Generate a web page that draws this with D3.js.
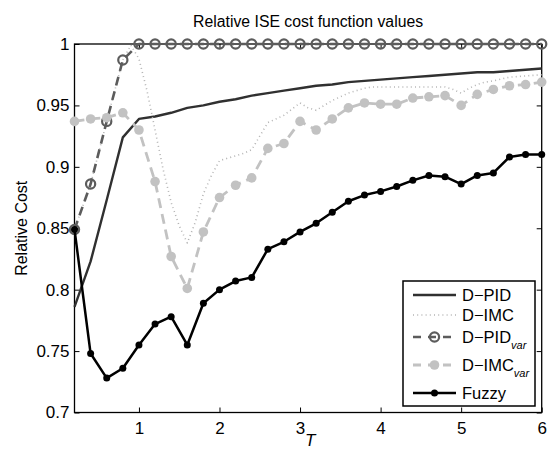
<!DOCTYPE html>
<html><head><meta charset="utf-8">
<script src="https://cdn.jsdelivr.net/npm/d3@7"></script>
<style>
html,body{margin:0;padding:0;background:#fff;}
text{font-family:"Liberation Sans",Arial,Helvetica,sans-serif;}
</style></head>
<body><svg id="c" width="551" height="450"></svg>
<script>
// ---- data ----
const T = [0.2,0.4,0.6,0.8,1.0,1.2,1.4,1.6,1.8,2.0,2.2,2.4,2.6,2.8,3.0,3.2,3.4,3.6,3.8,4.0,4.2,4.4,4.6,4.8,5.0,5.2,5.4,5.6,5.8,6.0];
const dPID = [0.786,0.823,0.873,0.924,0.939,0.941,0.944,0.948,0.950,0.953,0.955,0.958,0.960,0.962,0.964,0.966,0.967,0.969,0.970,0.971,0.972,0.973,0.974,0.975,0.976,0.977,0.977,0.978,0.979,0.980];
const dPIDvar = [0.849,0.886,0.937,0.987,1,1,1,1,1,1,1,1,1,1,1,1,1,1,1,1,1,1,1,1,1,1,1,1,1,1];
const dIMCvar = [0.937,0.939,0.940,0.944,0.930,0.888,0.827,0.801,0.847,0.875,0.885,0.891,0.915,0.919,0.937,0.930,0.939,0.948,0.952,0.951,0.951,0.956,0.957,0.958,0.950,0.959,0.963,0.966,0.967,0.969];
const fuzzy = [0.849,0.748,0.728,0.736,0.755,0.772,0.778,0.755,0.789,0.800,0.807,0.810,0.833,0.839,0.847,0.854,0.863,0.872,0.877,0.880,0.884,0.889,0.893,0.892,0.886,0.893,0.895,0.908,0.910,0.910];
const T_imc = [0.2,0.4,0.6,0.8,0.9,1.0,1.1,1.2,1.3,1.4,1.5,1.6,1.7,1.8,1.9,2.0,2.1,2.2,2.3,2.4,2.5,2.6,2.7,2.8,2.9,3.0,3.1,3.2,3.3,3.4,3.5,3.6,3.7,3.8,3.9,4.0,4.2,4.4,4.6,4.8,4.9,5.0,5.1,5.2,5.3,5.4,5.6,5.8,6.0];
const dIMC = [0.849,0.886,0.937,0.987,0.999,0.988,0.962,0.930,0.898,0.871,0.852,0.838,0.855,0.878,0.893,0.905,0.907,0.909,0.911,0.914,0.925,0.936,0.939,0.942,0.947,0.952,0.948,0.946,0.950,0.954,0.957,0.960,0.962,0.964,0.965,0.965,0.965,0.965,0.965,0.965,0.963,0.960,0.964,0.967,0.969,0.970,0.973,0.974,0.975];
const xTicks = [1,2,3,4,5,6];
const yTicks = [0.7,0.75,0.8,0.85,0.9,0.95,1];
const yTickLabels = ["0.7","0.75","0.8","0.85","0.9","0.95","1"];
const title = "Relative ISE cost function values";
const xLabel = "T";
const yLabel = "Relative Cost";
const legendNames = ["D−PID","D−IMC","D−PID","D−IMC","Fuzzy"];
const legendSubs = ["","","var","var",""];

// ---- layout ----
const L = 74.5, R = 541.7, TOP = 44, BOT = 412.5;
const svg = d3.select("#c");
const x = d3.scaleLinear().domain([0.2,6]).range([L,R]);
const y = d3.scaleLinear().domain([0.7,1]).range([BOT,TOP]);

const styles = [
  {color:"#303030", w:2.4, dash:null, marker:null},
  {color:"#b4b4b4", w:1.6, dash:"1,3.2", marker:null},
  {color:"#5c5c5c", w:2.6, dash:"9,6", marker:"open"},
  {color:"#c2c2c2", w:2.8, dash:"10,6", marker:"fill"},
  {color:"#000000", w:2.5, dash:null, marker:"dot"}
];

// axes box
svg.append("rect").attr("x",L).attr("y",TOP).attr("width",R-L).attr("height",BOT-TOP)
  .attr("fill","#fff").attr("stroke","#000").attr("stroke-width",1.3);

// ticks inward on all sides
const tl = 5;
const ax = svg.append("g");
ax.append("g").attr("transform",`translate(0,${BOT})`)
  .call(d3.axisBottom(x).tickValues(xTicks).tickSizeInner(-tl).tickSizeOuter(0).tickPadding(9).tickFormat(d3.format("d")));
ax.append("g").attr("transform",`translate(0,${TOP})`)
  .call(d3.axisTop(x).tickValues(xTicks).tickSizeInner(-tl).tickSizeOuter(0).tickFormat(""));
ax.append("g").attr("transform",`translate(${L},0)`)
  .call(d3.axisLeft(y).tickValues(yTicks).tickSizeInner(-tl).tickSizeOuter(0).tickPadding(5).tickFormat((d,i)=>yTickLabels[i]));
ax.append("g").attr("transform",`translate(${R},0)`)
  .call(d3.axisRight(y).tickValues(yTicks).tickSizeInner(-tl).tickSizeOuter(0).tickFormat(""));
ax.selectAll(".domain").remove();
ax.selectAll(".tick line").attr("stroke","#000").attr("stroke-width",1);
ax.selectAll(".tick text").attr("font-size",17).attr("fill","#000")
  .attr("font-family",'"Liberation Sans",Arial,sans-serif');

// series
const seriesList = [
  {xs:T, ys:dPID},
  {xs:T_imc, ys:dIMC},
  {xs:T, ys:dPIDvar},
  {xs:T, ys:dIMCvar},
  {xs:T, ys:fuzzy}
];
const line = d3.line().x(d=>x(d[0])).y(d=>y(d[1]));
function drawMarker(g, cx, cy, st){
  if(st.marker==="open") g.append("circle").attr("cx",cx).attr("cy",cy).attr("r",4.6)
      .attr("fill","none").attr("stroke",st.color).attr("stroke-width",2.2);
  else if(st.marker==="fill") g.append("circle").attr("cx",cx).attr("cy",cy).attr("r",4.8).attr("fill",st.color);
  else if(st.marker==="dot") g.append("circle").attr("cx",cx).attr("cy",cy).attr("r",3.5).attr("fill",st.color);
}
seriesList.forEach((s,i)=>{
  const st = styles[i];
  const pts = s.xs.map((v,j)=>[v,s.ys[j]]);
  const g = svg.append("g");
  const p = g.append("path").attr("d",line(pts)).attr("fill","none")
    .attr("stroke",st.color).attr("stroke-width",st.w).attr("stroke-linejoin","round");
  if(st.dash) p.attr("stroke-dasharray",st.dash);
  if(st.marker) pts.forEach(d=>drawMarker(g,x(d[0]),y(d[1]),st));
});

// titles
svg.append("text").attr("x",(L+R)/2).attr("y",27).attr("text-anchor","middle")
  .attr("font-size",15.8).text(title);
svg.append("text").attr("x",(L+R)/2+2).attr("y",446).attr("text-anchor","middle")
  .attr("font-size",17).attr("font-style","italic").text(xLabel);
svg.append("text").attr("transform",`translate(27,${(TOP+BOT)/2}) rotate(-90)`)
  .attr("text-anchor","middle").attr("font-size",16).text(yLabel);

// legend
const lg = svg.append("g");
lg.append("rect").attr("x",403).attr("y",281).attr("width",132).attr("height",125)
  .attr("fill","#fff").attr("stroke","#000").attr("stroke-width",1.5);
const rowY = [295,315,337,365,393];
legendNames.forEach((nm,i)=>{
  const st = styles[i], cy = rowY[i];
  const p = lg.append("line").attr("x1",413).attr("x2",456).attr("y1",cy).attr("y2",cy)
    .attr("stroke",st.color).attr("stroke-width",st.w);
  if(st.dash) p.attr("stroke-dasharray", i===1 ? "1,3.2" : "8,7");
  if(st.marker) drawMarker(lg,434.5,cy,st);
  const t = lg.append("text").attr("x",462).attr("y",cy+6).attr("font-size",16.5).text(nm);
  if(legendSubs[i]) t.append("tspan").attr("dy",6).attr("font-size",11).attr("font-style","italic").text(legendSubs[i]);
});
</script></body></html>
